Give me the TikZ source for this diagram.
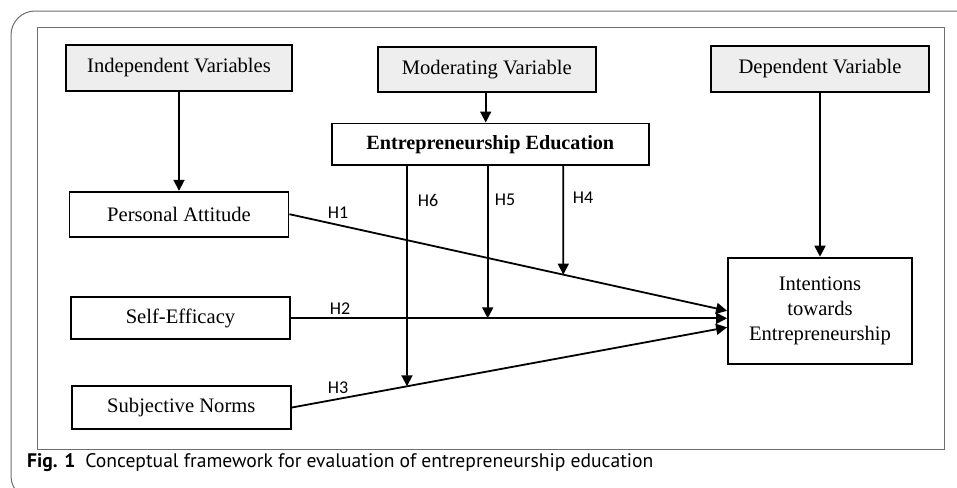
\documentclass[tikz,border=0pt]{standalone}
\usepackage{fontspec}
\setmainfont{Liberation Serif}
\newfontfamily\hfont{Carlito}
\newfontfamily\capfont{PT Sans}
\usetikzlibrary{arrows.meta,calc}
\definecolor{boxgray}{RGB}{238,238,238}
\definecolor{framegray}{RGB}{110,110,110}
\tikzset{
  box/.style={draw=black, line width=0.9pt, inner sep=0pt, align=center, font=\fontsize{10.3}{12.4}\selectfont},
  headbox/.style={box, fill=boxgray},
  arr/.style={line width=0.9pt, -{Triangle[length=5.5pt,width=5.5pt]}},
  hlab/.style={font=\hfont\fontsize{9}{10}\selectfont, inner sep=0pt},
  frame/.style={draw=framegray, line width=0.5pt}
}
\begin{document}
\begin{tikzpicture}[x=0.5pt,y=-0.5pt]
\useasboundingbox (0,0) rectangle (957,487);
\begin{scope}
\clip (0,0) rectangle (957,487);
\draw[frame, rounded corners=12pt] (11,11) rectangle (990,500);
\end{scope}
\draw[frame] (37.7,27.7) rectangle (944,449);
% boxes
\node[headbox, minimum width=113.2pt, minimum height=22.8pt] (IV) at (179,67.8) {Independent Variables};
\node[headbox, minimum width=109pt, minimum height=22.8pt] (MV) at (486.7,69.5) {Moderating Variable};
\node[headbox, minimum width=109pt, minimum height=23pt] (DV) at (820,69) {Dependent Variable};
\node[box, minimum width=158.7pt, minimum height=20.8pt, font=\bfseries\fontsize{10.1}{12}\selectfont] (EE) at (490.3,144.2) {Entrepreneurship Education};
\node[box, minimum width=109.5pt, minimum height=22.5pt] (PA) at (179,214.2) {Personal Attitude};
\node[box, minimum width=109.5pt, minimum height=21.3pt] (SE) at (180.5,318) {Self-Efficacy};
\node[box, minimum width=109.7pt, minimum height=21.5pt] (SN) at (181.3,407.5) {Subjective Norms};
\node[box, minimum width=92pt, minimum height=53.2pt] (IT) at (820,310.8) {Intentions\\towards\\Entrepreneurship};
% coordinates
\coordinate (t1) at (IT.west);
\coordinate (t2) at ([yshift=-3.75pt]IT.west);
\coordinate (t3) at ([yshift=-8.25pt]IT.west);
\coordinate (s2) at (SE.east |- t2);
\coordinate (h4a) at (563.3,165.7);
\coordinate (h5a) at (487.7,165.7);
\coordinate (h6a) at (407,165.7);
\coordinate (h4b) at (intersection of PA.east--t1 and h4a--563.3,400);
\coordinate (h5b) at (h5a |- t2);
\coordinate (h6b) at (intersection of SN.east--t3 and h6a--407,450);
% connectors
\draw[arr] (IV) -- (PA);
\draw[arr] (MV.south -| 485.7,0) -- (EE.north -| 485.7,0);
\draw[arr] (DV) -- (IT);
\draw[arr] (PA.east) -- (t1);
\draw[arr] (s2) -- (t2);
\draw[arr] (SN.east) -- (t3);
\draw[arr] (h4a) -- (h4b);
\draw[arr] (h5a) -- (h5b);
\draw[arr] (h6a) -- (h6b);
% labels
\node[hlab] (H1) at (338,213) {H1};
\node[hlab] (H2) at (340,309) {H2};
\node[hlab] (H3) at (338,388) {H3};
\node[hlab] (H4) at (583,198) {H4};
\node[hlab] (H5) at (505,200) {H5};
\node[hlab] (H6) at (428,200) {H6};
% caption
\node[anchor=base west, inner sep=0pt, font=\capfont\fontsize{9.8}{12}\selectfont] (cap) at (26.7,467.7) {\textbf{Fig. 1}\hspace{5pt}Conceptual framework for evaluation of entrepreneurship education};
\end{tikzpicture}
\end{document}
